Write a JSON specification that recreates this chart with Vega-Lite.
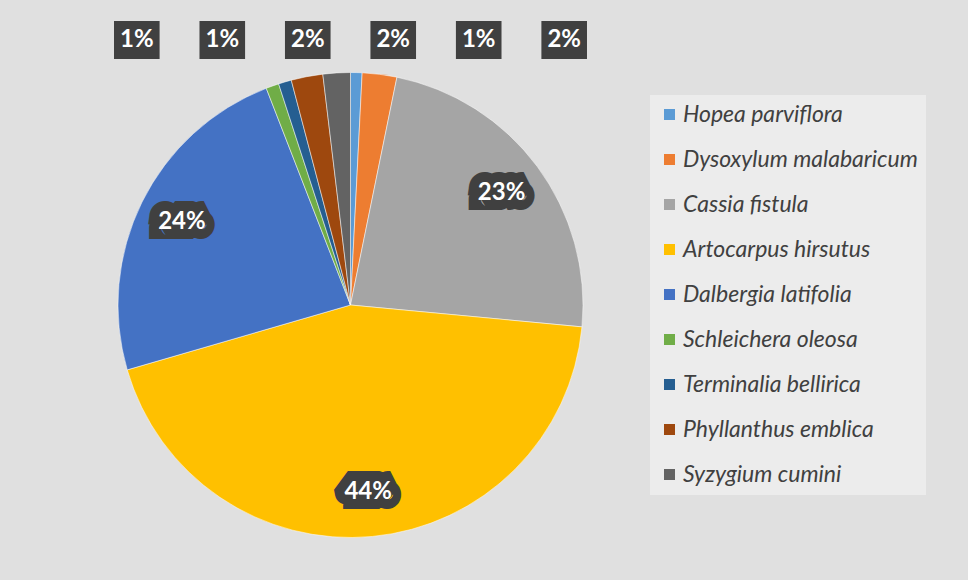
{
  "$schema": "https://vega.github.io/schema/vega-lite/v6.json",
  "width": 465,
  "height": 466,
  "autosize": {"type": "none"},
  "padding": {"left": 118, "top": 72, "right": 385, "bottom": 42},
  "background": "#e0e0e0",
  "config": {"view": {"stroke": null}},
  "data": {
    "values": [
      {"n": 1, "species": "Hopea parviflora", "share": 0.008},
      {"n": 2, "species": "Dysoxylum malabaricum", "share": 0.024},
      {"n": 3, "species": "Cassia fistula", "share": 0.233},
      {"n": 4, "species": "Artocarpus hirsutus", "share": 0.440},
      {"n": 5, "species": "Dalbergia latifolia", "share": 0.236},
      {"n": 6, "species": "Schleichera oleosa", "share": 0.009},
      {"n": 7, "species": "Terminalia bellirica", "share": 0.009},
      {"n": 8, "species": "Phyllanthus emblica", "share": 0.022},
      {"n": 9, "species": "Syzygium cumini", "share": 0.019}
    ]
  },
  "layer": [
    {
      "mark": {"type": "arc", "stroke": "#ffffff", "strokeWidth": 0.5},
      "encoding": {
        "theta": {"field": "share", "type": "quantitative", "stack": true},
        "order": {"field": "n", "type": "quantitative"},
        "color": {
          "field": "species",
          "type": "nominal",
          "sort": null,
          "scale": {
            "domain": ["Hopea parviflora", "Dysoxylum malabaricum", "Cassia fistula", "Artocarpus hirsutus", "Dalbergia latifolia", "Schleichera oleosa", "Terminalia bellirica", "Phyllanthus emblica", "Syzygium cumini"],
            "range": ["#5B9BD5", "#ED7D31", "#A5A5A5", "#FFC000", "#4472C4", "#70AD47", "#255E91", "#9E480E", "#636363"]
          },
          "legend": {
            "orient": "none",
            "legendX": 532,
            "legendY": 23,
            "title": null,
            "symbolType": "square",
            "symbolSize": 121,
            "symbolStrokeWidth": 0,
            "labelFont": "Lato",
            "labelFontStyle": "italic",
            "labelFontSize": 23,
            "labelColor": "#404040",
            "rowPadding": 21,
            "labelOffset": 2,
            "padding": 8,
            "fillColor": "#ececec",
            "labelLimit": 400
          }
        }
      }
    },
    {
      "mark": {"type": "text", "radius": 188, "font": "Lato", "fontWeight": "bold", "fontSize": 24, "fill": "#404040", "stroke": "#404040", "strokeWidth": 20, "strokeJoin": "miter", "strokeMiterLimit": 2},
      "encoding": {
        "theta": {"field": "share", "type": "quantitative", "stack": true},
        "order": {"field": "n", "type": "quantitative"},
        "text": {"condition": {"test": "datum.share >= 0.03", "field": "share", "type": "quantitative", "format": ".0%"}, "value": ""}
      }
    },
    {
      "mark": {"type": "text", "radius": 188, "font": "Lato", "fontWeight": "bold", "fontSize": 24, "fill": "#ffffff"},
      "encoding": {
        "theta": {"field": "share", "type": "quantitative", "stack": true},
        "order": {"field": "n", "type": "quantitative"},
        "text": {"condition": {"test": "datum.share >= 0.03", "field": "share", "type": "quantitative", "format": ".0%"}, "value": ""}
      }
    },
    {
      "transform": [{"filter": "datum.share < 0.03"}],
      "mark": {"type": "point", "shape": "M-1.2,-1L1.2,-1L1.2,1L-1.2,1Z", "size": 1444, "filled": true, "color": "#404040", "opacity": 1},
      "encoding": {
        "x": {"field": "species", "type": "nominal", "sort": ["Schleichera oleosa", "Terminalia bellirica", "Phyllanthus emblica", "Syzygium cumini", "Hopea parviflora", "Dysoxylum malabaricum"], "scale": {"type": "point", "padding": 0.22}, "axis": null},
        "y": {"value": -32}
      }
    },
    {
      "transform": [{"filter": "datum.share < 0.03"}],
      "mark": {"type": "text", "font": "Lato", "fontWeight": "bold", "fontSize": 24, "fill": "#ffffff"},
      "encoding": {
        "x": {"field": "species", "type": "nominal", "sort": ["Schleichera oleosa", "Terminalia bellirica", "Phyllanthus emblica", "Syzygium cumini", "Hopea parviflora", "Dysoxylum malabaricum"], "scale": {"type": "point", "padding": 0.22}, "axis": null},
        "y": {"value": -32},
        "text": {"field": "share", "type": "quantitative", "format": ".0%"}
      }
    }
  ]
}
